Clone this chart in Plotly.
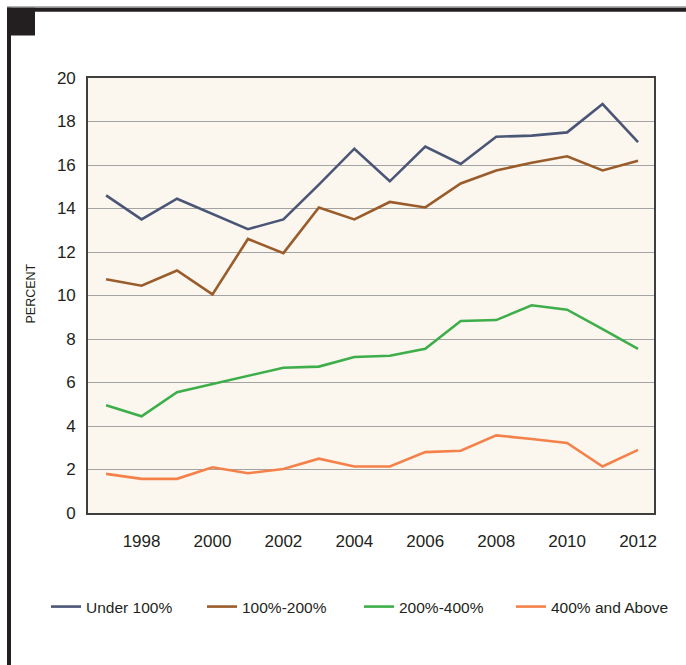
import plotly.graph_objects as go

years = list(range(1997, 2013))
under_100 = [14.6, 13.5, 14.45, 13.75, 13.05, 13.5, 15.1, 16.75, 15.25, 16.85, 16.05, 17.3, 17.35, 17.5, 18.8, 17.05]
p100_200 = [10.75, 10.45, 11.15, 10.05, 12.6, 11.95, 14.05, 13.5, 14.3, 14.05, 15.15, 15.75, 16.1, 16.4, 15.75, 16.2]
p200_400 = [4.95, 4.45, 5.55, 5.92, 6.32, 6.68, 6.73, 7.17, 7.23, 7.55, 8.83, 8.87, 9.55, 9.35, 8.45, 7.55]
p400_up = [1.8, 1.57, 1.57, 2.1, 1.83, 2.02, 2.5, 2.14, 2.14, 2.8, 2.86, 3.57, 3.4, 3.22, 2.14, 2.9]

series_names = ["Under 100%", "100%-200%", "200%-400%", "400% and Above"]
series_values = [under_100, p100_200, p200_400, p400_up]
series_colors = ["#4b5677", "#9a5c2b", "#3dae49", "#f5814a"]

y_ticks = list(range(0, 21, 2))
x_ticks = list(range(1998, 2013, 2))

W, H, L, T, B = 686, 665, 88, 78, 513
PW, PH = 686 - 88 - 32, B - T


def px2paper(px, py):
    return (px - L) / PW, (B - py) / PH


legend_ids = ["legend", "legend2", "legend3", "legend4"]
legend_px = [46, 202, 359, 511]

fig = go.Figure()
for name, vals, col, lid in zip(series_names, series_values, series_colors, legend_ids):
    fig.add_trace(go.Scatter(x=years, y=vals, mode="lines", name=name, legend=lid,
                             line=dict(color=col, width=2.6)))


def rect(x0, y0, x1, y1, color):
    a = px2paper(x0, y1)
    b = px2paper(x1, y0)
    return dict(type="rect", xref="paper", yref="paper", x0=a[0], y0=a[1], x1=b[0], y1=b[1],
                fillcolor=color, line=dict(width=0), layer="above")


shapes = [
    rect(7, 6.3, 686, 7.8, "#9b9b9b"),
    rect(7, 7.8, 686, 11.7, "#231f20"),
    rect(7, 7.8, 11, 665, "#231f20"),
    rect(7, 7.8, 35, 35.5, "#231f20"),
]

px_, py_ = px2paper(30.5, 294)

legend_layouts = {}
for lid, lx in zip(legend_ids, legend_px):
    legend_layouts[lid] = dict(orientation="h", x=px2paper(lx, 0)[0], xanchor="left",
                               y=px2paper(0, 607)[1], yanchor="middle",
                               font=dict(size=15.5, color="#231f20"),
                               bgcolor="rgba(0,0,0,0)")

fig.update_layout(
    width=W, height=H,
    margin=dict(l=L, r=32, t=T, b=H - B),
    paper_bgcolor="white",
    plot_bgcolor="#fbf7ef",
    font=dict(family="Liberation Sans, Arial, sans-serif", color="#231f20"),
    showlegend=True,
    shapes=shapes,
    annotations=[dict(text="PERCENT", xref="paper", yref="paper", x=px_, y=py_,
                      textangle=-90, showarrow=False, font=dict(size=12.5, color="#231f20"),
                      xanchor="center", yanchor="middle")],
    **legend_layouts,
)

fig.update_xaxes(range=[1996.49, 2012.45], tickvals=x_ticks, ticktext=[str(v) for v in x_ticks],
                 showgrid=False, zeroline=False, showline=True, mirror=True,
                 linecolor="#3f3f3f", linewidth=1.6, ticks="", ticklabelstandoff=12,
                 tickfont=dict(size=17, color="#231f20"))
fig.update_yaxes(range=[0, 20], tickvals=y_ticks, ticktext=[str(v) for v in y_ticks],
                 showgrid=True, gridcolor="#a3a3a3", gridwidth=1.3, zeroline=False,
                 showline=True, mirror=True, linecolor="#3f3f3f", linewidth=1.6,
                 ticks="", ticklabelstandoff=7, tickfont=dict(size=17, color="#231f20"))

fig.write_html("out.html", config={"displayModeBar": False},
               post_script="document.body.style.margin='0';")
